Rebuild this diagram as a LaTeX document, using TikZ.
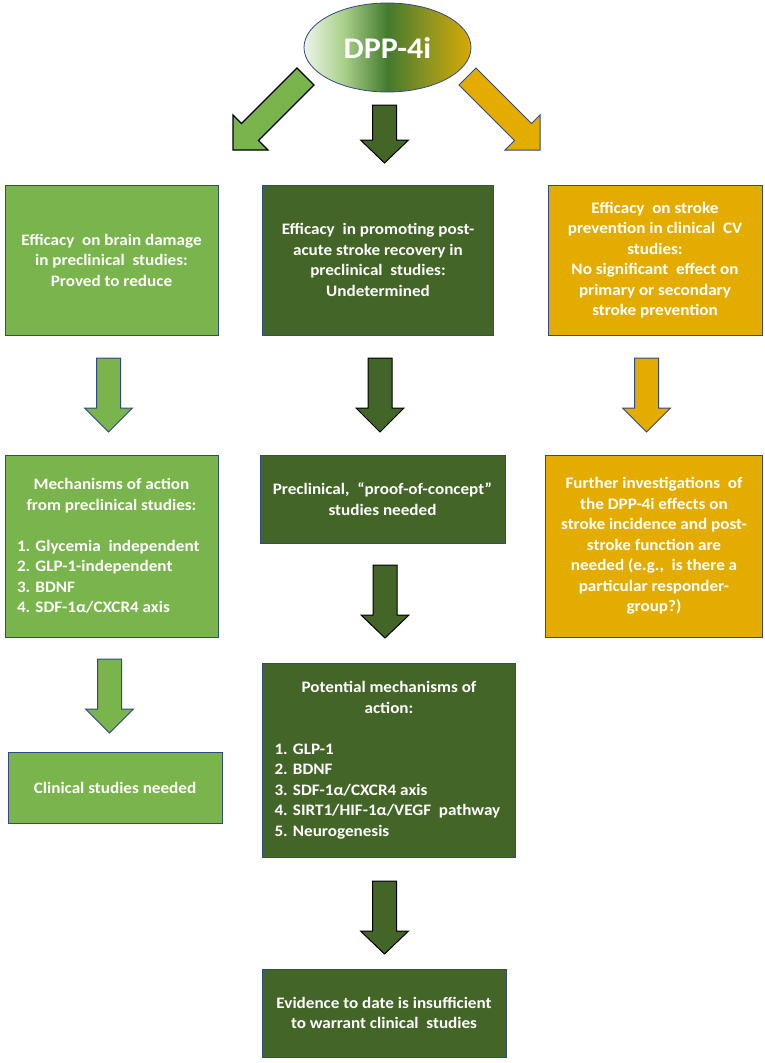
\documentclass[tikz,border=0pt]{standalone}
\usepackage{fontspec}
\setmainfont{Carlito}[FakeStretch=1.07]
\usetikzlibrary{shapes.geometric}
\definecolor{lgreen}{HTML}{79B44C}
\definecolor{dgreen}{HTML}{436628}
\definecolor{gold}{HTML}{E5AC00}
\definecolor{bord}{HTML}{2E4A8A}
\definecolor{ec1}{HTML}{EEF4E8}
\definecolor{ec2}{HTML}{A9D08A}
\definecolor{ec3}{HTML}{447A2E}
\definecolor{ec4}{HTML}{8C9420}
\definecolor{ec5}{HTML}{D8A904}
\pgfdeclarehorizontalshading{dppshade}{100bp}{color(0bp)=(ec1); color(25bp)=(ec1); color(37bp)=(ec2); color(50bp)=(ec3); color(62bp)=(ec4); color(75bp)=(ec5); color(100bp)=(ec5)}
\newcommand\vblock[5]{% cx, top, headstart, tip, style
  \draw[#5] (#1-12,#2) -- (#1+12,#2) -- (#1+12,#3) -- (#1+24,#3) -- (#1,#4)
    -- (#1-24,#3) -- (#1-12,#3) -- cycle;}
\newcommand\dsp{\ \ }
\tikzset{
  box/.style={draw=bord, line width=0.8pt, rectangle, inner sep=0pt, text=white,
    font=\bfseries\fontsize{16}{20.5}\selectfont, align=center},
  lg/.style={box, fill=lgreen},
  dg/.style={box, fill=dgreen},
  gd/.style={box, fill=gold},
  arrl/.style={fill=lgreen, draw=bord, line width=1pt, line join=miter},
  arrd/.style={fill=dgreen, draw=black, line width=1pt, line join=miter},
  arrg/.style={fill=gold, draw=bord, line width=1pt, line join=miter},
  arrlk/.style={fill=lgreen, draw=black, line width=1.2pt, line join=miter},
}
\begin{document}
\begin{tikzpicture}[x=1pt,y=-1pt]
\useasboundingbox (0,0) rectangle (765,1063);
% top ellipse
\node[ellipse, draw=bord, line width=0.8pt, shading=dppshade, minimum width=167, minimum height=89,
  text=white, font=\bfseries\fontsize{30}{32}\selectfont] (dpp) at (387.5,47.5) {DPP-4i};
% diagonal arrows
\draw[arrlk] (297,68) -- (241.5,123.5) -- (233,115) -- (233,150) -- (268,150) -- (258.5,140.5) -- (314,85) -- cycle;
\draw[arrg] (476,68) -- (531.5,123.5) -- (540,115) -- (540,150) -- (505,150) -- (514.5,140.5) -- (459,85) -- cycle;
\vblock{384.5}{105}{140}{163}{arrd}
% row 1
\node[lg, minimum width=213, minimum height=150] (b1) at (111.5,260) {Efficacy\dsp on brain damage\\in preclinical\dsp studies:\\Proved to reduce};
\node[dg, minimum width=231, minimum height=150] (b2) at (378,260) {Efficacy\dsp in promoting post-\\acute stroke recovery in\\preclinical\dsp studies:\\Undetermined};
\node[gd, minimum width=214, minimum height=150] (b3) at (655,260) {Efficacy\dsp on stroke\\prevention in clinical\dsp CV\\studies:\\No significant\dsp effect on\\primary or secondary\\stroke prevention};
% row 1 arrows
\vblock{108.5}{358}{408}{432}{arrl}
\vblock{380}{358}{408}{432}{arrd}
\vblock{646.5}{358}{408}{432}{arrg}
% row 2
\node[lg, minimum width=213, minimum height=182] (b4) at (111.5,546) {\begin{minipage}{189pt}\centering Mechanisms of action\\from preclinical studies:\par\vspace{20.5pt}\raggedright
1. Glycemia\dsp independent\\2. GLP-1-independent\\3. BDNF\\4. SDF-1α/CXCR4 axis\par\end{minipage}};
\node[dg, minimum width=245, minimum height=88] (b5) at (382.5,499) {Preclinical,\dsp “proof-of-concept”\\studies needed};
\node[gd, minimum width=217, minimum height=182] (b6) at (654,546) {Further investigations\dsp of\\the DPP-4i effects on\\stroke incidence and post-\\stroke function are\\needed (e.g.,\dsp is there a\\particular responder-\\group?)};
% row 2 arrows
\vblock{109.5}{659}{709}{733}{arrl}
\vblock{385}{565}{615}{638}{arrd}
% row 3
\node[lg, minimum width=214, minimum height=71] (b7) at (115,787.5) {Clinical studies needed};
\node[dg, minimum width=253, minimum height=194] (b8) at (389,760) {\begin{minipage}{229pt}\centering Potential mechanisms of\\action:\par\vspace{20.5pt}\raggedright
1. GLP-1\\2. BDNF\\3. SDF-1α/CXCR4 axis\\4. SIRT1/HIF-1α/VEGF\dsp pathway\\5. Neurogenesis\par\end{minipage}};
\vblock{384.5}{881}{931}{954}{arrd}
\node[dg, minimum width=244, minimum height=88] (b9) at (384,1013) {Evidence to date is insufficient\\to warrant clinical\dsp studies};
\end{tikzpicture}
\end{document}
